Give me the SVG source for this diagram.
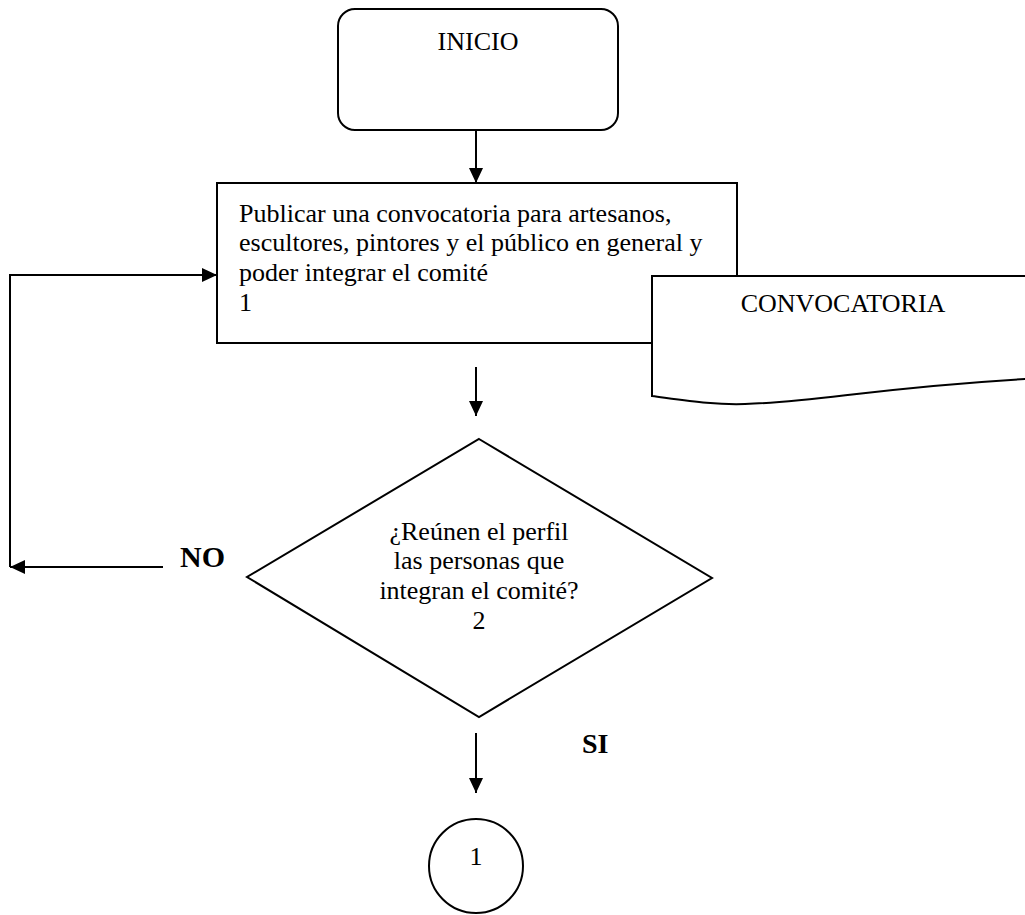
<svg xmlns="http://www.w3.org/2000/svg" width="1025" height="915" viewBox="0 0 1025 915">
  <style>
    .shape { fill: #ffffff; stroke: #000000; stroke-width: 2; }
    .conn { fill: none; stroke: #000000; stroke-width: 2; }
    .t { font-family: "Liberation Serif", "Times New Roman", serif; font-size: 26px; fill: #000000; }
    .b { font-family: "Liberation Serif", "Times New Roman", serif; font-weight: bold; fill: #000000; }
  </style>
  <defs>
    <marker id="arrow" markerUnits="userSpaceOnUse" markerWidth="16" markerHeight="14" refX="15" refY="7" orient="auto">
      <path d="M0,0 L15,7 L0,14 Z" fill="#000000"/>
    </marker>
  </defs>
  <rect width="1025" height="915" fill="#ffffff"/>

  <g id="connectors">
    <path class="conn" d="M476,130 V183" marker-end="url(#arrow)"/>
    <path class="conn" d="M476,367 V416" marker-end="url(#arrow)"/>
    <path class="conn" d="M476,733 V793" marker-end="url(#arrow)"/>
    <path class="conn" d="M163,567 H10" marker-end="url(#arrow)"/>
    <path class="conn" d="M10,567 V275 H217" marker-end="url(#arrow)"/>
  </g>

  <g id="inicio">
    <rect class="shape" x="338" y="9" width="280" height="121" rx="17" ry="17"/>
    <text class="t" x="478" y="50" text-anchor="middle">INICIO</text>
  </g>

  <g id="proceso1">
    <rect class="shape" x="217" y="183" width="520" height="160"/>
    <text class="t" x="239" y="222">Publicar una convocatoria para artesanos,</text>
    <text class="t" x="239" y="251">escultores, pintores y el público en general y</text>
    <text class="t" x="239" y="281">poder integrar el comité</text>
    <text class="t" x="239" y="311">1</text>
  </g>

  <g id="documento">
    <path class="shape" d="M1026,276 H652 V396 C690,401 715,405 745,404 C820,402 870,388 1026,379"/>
    <text class="t" x="843" y="312" text-anchor="middle">CONVOCATORIA</text>
  </g>

  <g id="decision2">
    <polygon class="shape" points="479,439 712,578 479,717 247,577"/>
    <text class="t" x="479" y="540" text-anchor="middle">¿Reúnen el perfil</text>
    <text class="t" x="479" y="569" text-anchor="middle">las personas que</text>
    <text class="t" x="479" y="599" text-anchor="middle">integran el comité?</text>
    <text class="t" x="479" y="629" text-anchor="middle">2</text>
  </g>

  <g id="label-no">
    <text class="b" x="180" y="567" font-size="30">NO</text>
  </g>
  <g id="label-si">
    <text class="b" x="582" y="753" font-size="28">SI</text>
  </g>

  <g id="conector1">
    <circle class="shape" cx="476" cy="866" r="47"/>
    <text class="t" x="476" y="865" text-anchor="middle" font-size="28">1</text>
  </g>
</svg>
